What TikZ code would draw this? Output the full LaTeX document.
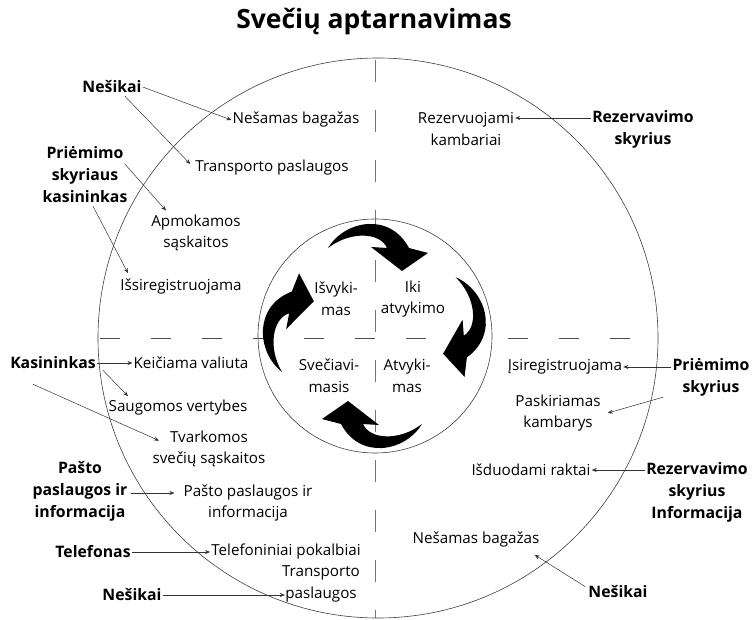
\documentclass[tikz,border=0pt]{standalone}
\usepackage{fontspec}
\setmainfont{Open Sans}
\usetikzlibrary{arrows.meta,calc}
\begin{document}
\begin{tikzpicture}[x=1pt,y=-1pt,
  lbl/.style={inner sep=1pt, align=center, font=\fontsize{15.2}{21.5}\selectfont},
  role/.style={inner sep=1pt, align=center, font=\fontsize{15.8}{22}\selectfont\bfseries},
  conn/.style={draw=black!80, line width=0.5pt, -{Stealth[length=5pt,width=4pt]}},
  ring/.style={draw=black!75, line width=0.6pt},
  hdash/.style={draw=black!70, line width=0.7pt, dash pattern=on 20pt off 31pt},
  vdash/.style={draw=black!55, line width=0.5pt, dash pattern=on 22pt off 28pt},
  cyc/.pic={\fill[black] (-47,-88) .. controls (-30,-116) and (15,-124) .. (34,-88)
      -- (53,-83) -- (27,-65) -- (-4,-89) -- (12,-88)
      .. controls (5,-104) and (-25,-105) .. cycle;}
]
\useasboundingbox (0,0) rectangle (752,620);
\fill[white] (0,0) rectangle (752,620);

% title
\node[font=\fontsize{26.5}{30}\selectfont\bfseries] (title) at (374,22) {Svečių aptarnavimas};

% circles and axes
\draw[ring] (378,338) circle[radius=280pt];
\draw[ring] (375,336) circle[radius=117pt];
\draw[hdash] (100,338) -- (656,338);
\draw[vdash] (375,60) -- (375,618);

% cycle arrows
\pic[rotate=0] at (375,336) {cyc};
\pic[rotate=-82] at (375,336) {cyc};
\pic[rotate=180] at (375,336) {cyc};
\pic[rotate=83] at (375,336) {cyc};

% inner labels
\node[lbl] (isv) at (336,299) {Išvyki-\\mas};
\node[lbl] (iki) at (413,299) {Iki\\atvykimo};
\node[lbl] (sve) at (329,376) {Svečiavi-\\masis};
\node[lbl] (atv) at (407,376) {Atvyki-\\mas};

% upper left
\node[role] (nesA) at (112,87) {Nešikai};
\node[lbl] (nbA) at (296,120) {Nešamas bagažas};
\node[lbl] (tpA) at (272,168) {Transporto paslaugos};
\node[role] (priemA) at (85,175) {Priėmimo\\skyriaus\\kasininkas};
\node[lbl] (apm) at (196,233) {Apmokamos\\sąskaitos};
\node[lbl] (isr) at (181,287) {Išsiregistruojama};

% upper right
\node[lbl] (rezk) at (466,129) {Rezervuojami\\kambariai};
\node[role] (rezA) at (643,129) {Rezervavimo\\skyrius};

% lower left
\node[role] (kas) at (53,363) {Kasininkas};
\node[lbl] (kv) at (191,363) {Keičiama valiuta};
\node[lbl] (sv) at (178,408) {Saugomos vertybes};
\node[lbl] (tvs) at (209,449) {Tvarkomos\\svečių sąskaitos};
\node[role] (pasto) at (80,491) {Pašto\\paslaugos ir\\informacija};
\node[lbl] (pastoR) at (248,503) {Pašto paslaugos ir\\informacija};
\node[role] (tel) at (93,552) {Telefonas};
\node[lbl] (telR) at (286,552) {Telefoniniai pokalbiai};
\node[role] (nesB) at (132,595) {Nešikai};
\node[lbl] (tpB) at (321,584) {Transporto\\paslaugos};

% lower right
\node[lbl] (isrR) at (565,367) {Įsiregistruojama};
\node[role] (priemR) at (711,377) {Priėmimo\\skyrius};
\node[lbl] (pask) at (558,413) {Paskiriamas\\kambarys};
\node[lbl] (idr) at (531,470) {Išduodami raktai};
\node[role] (rezR) at (697,492) {Rezervavimo\\skyrius\\Informacija};
\node[lbl] (nbB) at (476,540) {Nešamas bagažas};
\node[role] (nesC) at (618,592) {Nešikai};

% connectors
\draw[conn] (nesA.east) -- (nbA.west);
\draw[conn] ($(nesA.south)+(13,2)$) -- ($(tpA.west)+(-4,-4)$);
\draw[conn] ($(priemA.north east)+(-4,18)$) -- ($(apm.north)+(-30,-3)$);
\draw[conn] ($(priemA.south)+(8,2)$) -- ($(isr.north)+(-53,-5)$);
\draw[conn] ($(rezA.west)+(0,-11)$) -- ($(rezk.east)+(0,-11)$);
\draw[conn] (kas.east) -- (kv.west);
\draw[conn] ($(kas.south east)+(6,0)$) -- ($(sv.north)+(-50,-3)$);
\draw[conn] ($(kas.south)+(-20,14)$) -- ($(tvs.north)+(-50,11)$);
\draw[conn] ($(pasto.east)+(2,2)$) -- ($(pastoR.west)+(-8,-10)$);
\draw[conn] (tel.east) -- (telR.west);
\draw[conn] (nesB.east) -- ($(tpB.west)+(4,11)$);
\draw[conn] ($(priemR.west)+(0,-10)$) -- (isrR.east);
\draw[conn] ($(priemR.south west)+(-8,0)$) -- ($(pask.east)+(6,0)$);
\draw[conn] ($(rezR.west)+(0,-22)$) -- (idr.east);
\draw[conn] ($(nesC.north west)+(-2,2)$) -- ($(nbB.south east)+(-6,6)$);
\end{tikzpicture}
\end{document}
